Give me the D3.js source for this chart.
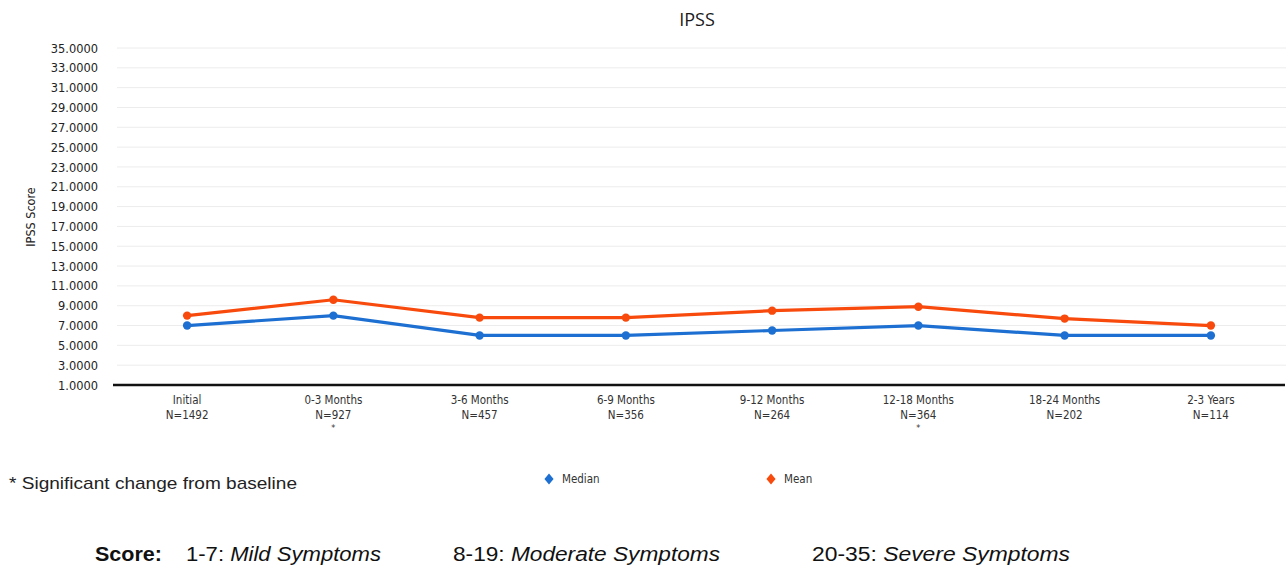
<!DOCTYPE html>
<html>
<head>
  <meta charset="utf-8">
  <script src="https://d3js.org/d3.v7.min.js"></script>
  <style>
    body { margin: 0; background: #fff; }
    svg { display: block; }
  </style>
</head>
<body>
<svg id="chart"></svg>
<script>
  // data
  const periods = ["Initial", "0-3 Months", "3-6 Months", "6-9 Months", "9-12 Months", "12-18 Months", "18-24 Months", "2-3 Years"];
  const counts = ["N=1492", "N=927", "N=457", "N=356", "N=264", "N=364", "N=202", "N=114"];
  const significant = [false, true, false, false, false, true, false, false];
  const median = [7.0, 8.0, 6.0, 6.0, 6.5, 7.0, 6.0, 6.0];
  const mean = [8.0, 9.6, 7.8, 7.8, 8.5, 8.9, 7.7, 7.0];
  const yTicks = d3.range(1, 36, 2);

  const W = 1287, H = 568;
  const margin = { top: 48, right: 3, bottom: 183, left: 114 };
  const width = W - margin.left - margin.right;
  const height = H - margin.top - margin.bottom;

  const svg = d3.select("#chart").attr("width", W).attr("height", H);
  const g = svg.append("g").attr("transform", `translate(${margin.left},${margin.top})`);

  const x = d3.scaleBand().domain(periods).range([0, width]);
  const y = d3.scaleLinear().domain([1, 35]).range([height, 0]);

  // gridlines
  g.append("g")
    .selectAll("line")
    .data(yTicks.filter(d => d > 1))
    .enter().append("line")
    .attr("x1", 3).attr("x2", width + 2)
    .attr("y1", d => y(d)).attr("y2", d => y(d))
    .style("stroke", "#ececec")
    .style("stroke-width", 1);

  // y axis labels
  const yAxis = g.append("g")
    .call(d3.axisLeft(y).tickValues(yTicks).tickFormat(d3.format(".4f")).tickSize(0).tickPadding(16));
  yAxis.select(".domain").remove();
  yAxis.selectAll("text")
    .style("font-family", "'DejaVu Sans Condensed', Verdana, sans-serif")
    .style("font-size", "12.7px")
    .style("fill", "#222");

  // x axis
  g.append("line")
    .attr("x1", -1).attr("x2", width + 1)
    .attr("y1", height).attr("y2", height)
    .style("stroke", "#111").style("stroke-width", 2.5);

  const xl = g.append("g").selectAll("g")
    .data(periods)
    .enter().append("text")
    .attr("x", d => x(d) + x.bandwidth() / 2)
    .attr("y", height + 19)
    .attr("text-anchor", "middle")
    .style("font-family", "'DejaVu Sans Condensed', Verdana, sans-serif")
    .style("font-size", "11.5px")
    .style("fill", "#333");
  xl.append("tspan").text(d => d);
  xl.append("tspan")
    .attr("x", d => x(d) + x.bandwidth() / 2)
    .attr("dy", 15)
    .text((d, i) => counts[i]);
  xl.append("tspan")
    .attr("x", d => x(d) + x.bandwidth() / 2)
    .attr("dy", 12)
    .style("font-size", "9px")
    .text((d, i) => significant[i] ? "*" : "");

  // series
  const series = [
    { name: "Median", values: median, color: "#1d6fd1" },
    { name: "Mean", values: mean, color: "#f84a0c" }
  ];
  const line = d3.line()
    .x((d, i) => x(periods[i]) + x.bandwidth() / 2)
    .y(d => y(d));

  series.forEach(s => {
    g.append("path")
      .datum(s.values)
      .attr("d", line)
      .style("fill", "none")
      .style("stroke", s.color)
      .style("stroke-width", 3.2);
    g.append("g").selectAll("circle")
      .data(s.values)
      .enter().append("circle")
      .attr("cx", (d, i) => x(periods[i]) + x.bandwidth() / 2)
      .attr("cy", d => y(d))
      .attr("r", 4.2)
      .style("fill", s.color);
  });

  // title
  svg.append("text")
    .attr("x", 697).attr("y", 26)
    .attr("text-anchor", "middle")
    .style("font-family", "'Open Sans', sans-serif")
    .style("font-size", "18px")
    .style("fill", "#1a1a1a")
    .text("IPSS");

  // y label
  svg.append("text")
    .attr("transform", "translate(35,217) rotate(-90)")
    .attr("text-anchor", "middle")
    .style("font-family", "'DejaVu Sans Condensed', Verdana, sans-serif")
    .style("font-size", "12.5px")
    .style("fill", "#222")
    .text("IPSS Score");

  // legend
  const legendX = [549, 771];
  series.forEach((s, i) => {
    const lg = svg.append("g").attr("transform", `translate(${legendX[i]},479)`);
    lg.append("path")
      .attr("d", d3.symbol().type(d3.symbolDiamond).size(50))
      .attr("transform", "scale(1.2,0.85)")
      .style("fill", s.color);
    lg.append("text")
      .attr("x", 13).attr("y", 4)
      .style("font-family", "'DejaVu Sans Condensed', Verdana, sans-serif")
      .style("font-size", "11.5px")
      .style("fill", "#333")
      .text(s.name);
  });

  // footnote
  svg.append("text")
    .attr("x", 9).attr("y", 489)
    .attr("textLength", 288)
    .attr("lengthAdjust", "spacingAndGlyphs")
    .style("font-family", "'Liberation Sans', Arial, sans-serif")
    .style("font-size", "17px")
    .style("fill", "#222")
    .text("* Significant change from baseline");

  // score key
  const keyFont = "'Liberation Sans', Arial, sans-serif";
  const keyParts = [
    { x: 95, len: 67, bold: true, parts: [["Score:", false]] },
    { x: 186, len: 195, parts: [["1-7: ", false], ["Mild Symptoms", true]] },
    { x: 453, len: 267, parts: [["8-19: ", false], ["Moderate Symptoms", true]] },
    { x: 812, len: 258, parts: [["20-35: ", false], ["Severe Symptoms", true]] }
  ];
  keyParts.forEach(k => {
    const t = svg.append("text")
      .attr("x", k.x).attr("y", 561)
      .attr("textLength", k.len)
      .attr("lengthAdjust", "spacingAndGlyphs")
      .style("font-family", keyFont)
      .style("font-size", "20.5px")
      .style("font-weight", k.bold ? "bold" : "normal")
      .style("fill", "#111");
    k.parts.forEach(p => {
      t.append("tspan").style("font-style", p[1] ? "italic" : "normal").text(p[0]);
    });
  });
</script>
</body>
</html>
